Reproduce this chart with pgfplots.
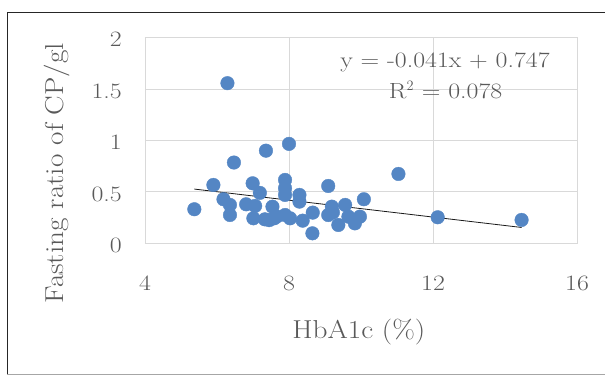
\documentclass[border=0pt]{standalone}
\usepackage{fontspec}
\newfontfamily\widetick{Latin Modern Roman}[FakeStretch=1.18]
\newfontfamily\widelabel{Latin Modern Roman}[FakeStretch=1.13]
\usepackage{pgfplots}
\pgfplotsset{compat=1.18}
\definecolor{dotblue}{RGB}{84,134,196}
\definecolor{txtgray}{RGB}{89,89,89}
\definecolor{gridgray}{RGB}{217,217,217}
\begin{document}
\begin{tikzpicture}
\path[use as bounding box] (-145bp,-132.7bp) rectangle (460bp,243.3bp);
\draw[black!85, line width=0.8bp] (462bp,231.3bp) -- (-138bp,231.3bp) -- (-138bp,-130.7bp);
\draw[black!35, line width=0.8bp] (-138bp,-130.7bp) -- (462bp,-130.7bp);
\begin{axis}[
  scale only axis,
  width=432bp, height=205.8bp,
  xmin=4, xmax=16, ymin=0, ymax=2,
  xtick={4,8,12,16},
  ytick={0,0.5,1,1.5,2},
  yticklabels={0,0.5,1,1.5,2},
  major tick length=0pt,
  grid=major,
  major grid style={gridgray, line width=0.8bp},
  axis line style={gridgray, line width=0.8bp},
  /pgf/number format/assume math mode=true,
  tick label style={font=\widetick\fontsize{22}{26}\selectfont, text=txtgray, inner sep=0pt},
  xticklabel style={anchor=base, yshift=-46.7bp},
  yticklabel style={anchor=base east, xshift=-23bp, yshift=-9.5bp},
  xlabel={HbA1c (\%)},
  ylabel={Fasting ratio of CP/gl},
  every axis x label/.style={at={(rel axis cs:0.495,-0.461)}, anchor=base, font=\widelabel\fontsize{26}{30}\selectfont, text=txtgray, inner sep=0pt},
  every axis y label/.style={at={(rel axis cs:-0.189,0.341)}, anchor=base, rotate=90, font=\widelabel\fontsize{26}{30}\selectfont, text=txtgray, inner sep=0pt},
  clip=false,
]
\addplot[only marks, color=dotblue, mark=*, mark size=6.8bp, mark options={draw=dotblue, fill=dotblue}] coordinates {
(5.37,0.331) (5.90,0.567) (6.18,0.428) (6.36,0.373) (6.36,0.275)
(6.29,1.556) (6.47,0.785) (7.36,0.900) (8.00,0.966)
(6.99,0.583) (7.19,0.490) (6.81,0.379) (7.06,0.363) (7.01,0.243)
(7.33,0.233) (7.45,0.225) (7.54,0.356) (7.59,0.243) (7.66,0.26)
(7.89,0.275) (7.89,0.616) (7.89,0.535) (7.89,0.470) (8.03,0.243)
(8.29,0.470) (8.29,0.405) (8.66,0.298) (8.38,0.220) (8.65,0.097)
(9.09,0.557) (9.19,0.356) (9.09,0.275) (9.22,0.30) (9.37,0.178)
(9.56,0.373) (9.65,0.259) (9.83,0.194) (9.97,0.259) (10.08,0.428)
(11.04,0.674) (12.13,0.253) (14.46,0.227)
};
\addplot[black!90, line width=0.8bp] coordinates {(5.37,0.527) (14.46,0.154)};
\node[font=\widetick\fontsize{22}{26}\selectfont, text=txtgray, anchor=base, inner sep=0pt] at (axis cs:12.333,1.708) {y = -0.041x + 0.747};
\node[font=\widetick\fontsize{22}{26}\selectfont, text=txtgray, anchor=base, inner sep=0pt] at (axis cs:12.35,1.4105) {R$^{2}$ = 0.078};
\end{axis}
\end{tikzpicture}
\end{document}
